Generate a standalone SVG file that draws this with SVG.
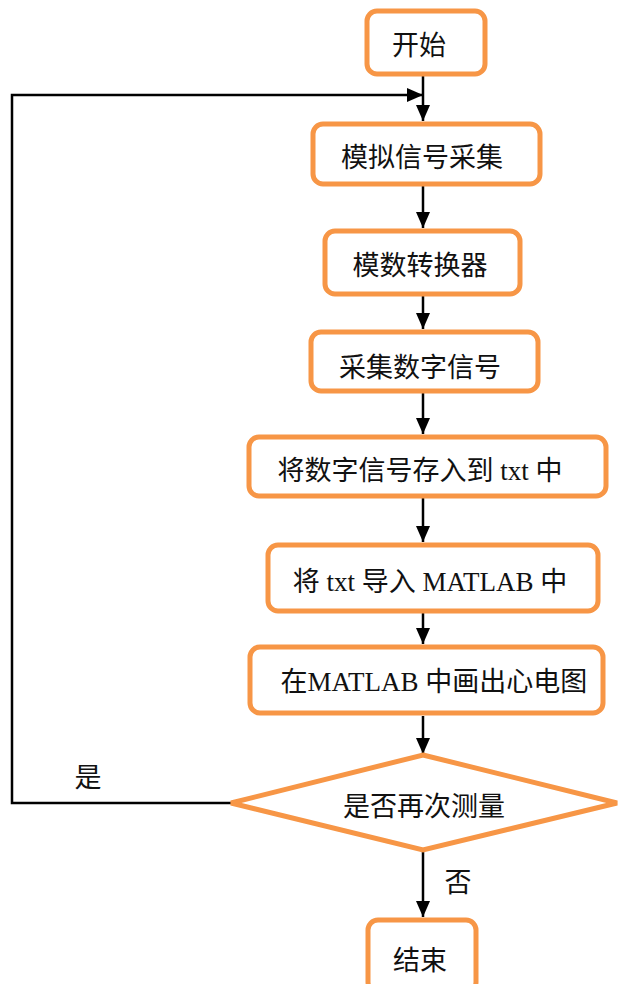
<svg xmlns="http://www.w3.org/2000/svg" width="620" height="984" viewBox="0 0 620 984">
<style>
.box{fill:#fff;stroke:#F79646;stroke-width:5}
.t{font-family:"Liberation Serif","Noto Sans CJK SC",serif;font-size:27px;fill:#111;text-anchor:middle}
.c{fill:none;stroke:#000;stroke-width:2.5}
</style>
<defs>
<marker id="ah" viewBox="0 0 16 14" refX="16" refY="7" markerWidth="16" markerHeight="14" markerUnits="userSpaceOnUse" orient="auto">
<path d="M0,0 L16,7 L0,14 z" fill="#000"/>
</marker>
</defs>
<rect width="620" height="984" fill="#fff"/>
<g id="connectors">
<line class="c" x1="423" y1="75" x2="423" y2="121" marker-end="url(#ah)"/>
<polyline class="c" points="231,803 12,803 12,95 423,95" marker-end="url(#ah)"/>
<line class="c" x1="423" y1="186" x2="423" y2="228" marker-end="url(#ah)"/>
<line class="c" x1="423" y1="296" x2="423" y2="329" marker-end="url(#ah)"/>
<line class="c" x1="423" y1="393" x2="423" y2="434" marker-end="url(#ah)"/>
<line class="c" x1="423" y1="498" x2="423" y2="542" marker-end="url(#ah)"/>
<line class="c" x1="423" y1="613" x2="423" y2="644" marker-end="url(#ah)"/>
<line class="c" x1="423" y1="716" x2="423" y2="754" marker-end="url(#ah)"/>
<line class="c" x1="423" y1="851" x2="423" y2="917" marker-end="url(#ah)"/>
<text class="t" x="88" y="787">是</text>
<text class="t" x="458" y="892">否</text>
</g>
<g id="start"><rect class="box" x="367" y="11" width="118" height="63" rx="10"/><text class="t" x="419" y="55">开始</text></g>
<g id="n1"><rect class="box" x="313" y="124" width="227" height="60" rx="10"/><text class="t" x="422" y="167">模拟信号采集</text></g>
<g id="n2"><rect class="box" x="325" y="231" width="195" height="63" rx="10"/><text class="t" x="420" y="275">模数转换器</text></g>
<g id="n3"><rect class="box" x="311" y="332" width="227" height="59" rx="10"/><text class="t" x="420" y="377">采集数字信号</text></g>
<g id="n4"><rect class="box" x="249" y="437" width="357" height="59" rx="10"/><text class="t" x="420" y="480">将数字信号存入到 txt 中</text></g>
<g id="n5"><rect class="box" x="268" y="545" width="330" height="66" rx="10"/><text class="t" x="430" y="591">将 txt 导入 MATLAB 中</text></g>
<g id="n6"><rect class="box" x="250" y="647" width="353" height="66" rx="10"/><text class="t" x="434" y="691">在MATLAB 中画出心电图</text></g>
<g id="decision"><polygon class="box" points="423,755 617,803 423,850 231,803"/><text class="t" x="424" y="816">是否再次测量</text></g>
<g id="end"><rect class="box" x="368" y="920" width="108" height="72" rx="10"/><text class="t" x="420" y="970">结束</text></g>
</svg>
